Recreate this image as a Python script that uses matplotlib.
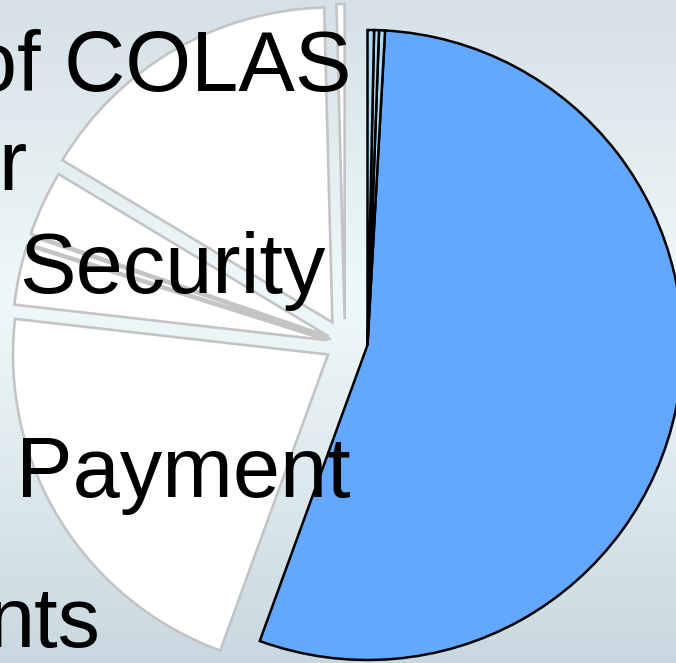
import matplotlib.pyplot as plt
import numpy as np
from matplotlib.colors import LinearSegmentedColormap

# slice sizes in degrees, counter-clockwise from the lower edge of the big slice
main_sizes = [196.8, 1.1, 0.9, 1.2]
main_colors = ["#62a8ff", "#aed8f2", "#aed8f2", "#aed8f2"]

# pulled-out segments, continuing counter-clockwise from 90 deg
side_sizes = [1.5, 57.5, 12.0, 1.5, 11.0, 76.5]
side_explode = [25, 25, 18, 15, 18, 20]

# overlapping slide text (visible parts)
labels_text = ["of COLAS", "r", "Security", "Payment", "nts"]
labels_xy = [(351, 572), (26, 473), (19, 370), (16, 166), (100, 16)]
labels_ha = ["right", "right", "left", "left", "right"]

W, H = 676, 663
fig = plt.figure(figsize=(W / 100, H / 100), dpi=100)
ax = fig.add_axes([0, 0, 1, 1])

# background gradient
bg = LinearSegmentedColormap.from_list(
    "bg", [(0.0, "#c9d8e0"), (0.55, "#eff9f9"), (1.0, "#d5e1e7")])
grad = np.linspace(0, 1, 256).reshape(-1, 1)
ax.imshow(grad, cmap=bg, extent=[0, W, 0, H], origin="lower",
          aspect="auto", zorder=0)

main_wedges, _ = ax.pie(np.array(main_sizes) / 360, colors=main_colors,
                        startangle=-110, counterclock=True, normalize=False,
                        center=(367.5, H - 345), radius=315, frame=True,
                        wedgeprops=dict(edgecolor="black", linewidth=1.8))

start = -110 + sum(main_sizes)
side_wedges, _ = ax.pie(np.array(side_sizes) / 360, colors=["white"] * len(side_sizes),
                        explode=side_explode, startangle=start,
                        counterclock=True, normalize=False,
                        center=(345, H - 344), radius=315, frame=True,
                        wedgeprops=dict(edgecolor="#c4c4c4", linewidth=1.9))

for w in main_wedges + side_wedges:
    w.set_zorder(2)

for txt, (x, y), ha in zip(labels_text, labels_xy, labels_ha):
    ax.text(x, y, txt, ha=ha, va="baseline", fontsize=61,
            family="Liberation Sans", color="black", zorder=3)

ax.set_xlim(0, W)
ax.set_ylim(0, H)
ax.set_aspect("auto")
ax.axis("off")

fig.savefig("out.png", dpi=100)
